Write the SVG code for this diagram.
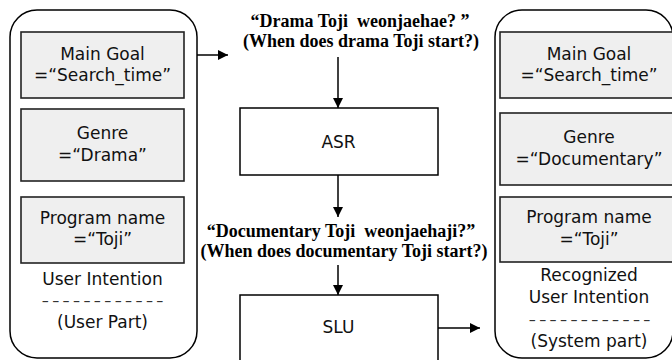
<svg xmlns="http://www.w3.org/2000/svg" width="672" height="360" viewBox="0 0 672 360">
<style>
.cont{fill:#fff;stroke:#000;stroke-width:1.5}
.slot{fill:#efefef;stroke:#222;stroke-width:1.6}
.proc{fill:#fff;stroke:#000;stroke-width:1.5}
.s{font-family:"DejaVu Sans",sans-serif;font-size:17px;fill:#111;text-anchor:middle}
.d{font-family:"DejaVu Sans",sans-serif;font-size:14px;fill:#333;text-anchor:middle;letter-spacing:1.9px}
.q{font-family:"Liberation Serif",serif;font-weight:bold;font-size:18px;fill:#000;text-anchor:middle}
.c{fill:none;stroke:#000;stroke-width:1.5}
</style>
<defs>
<marker id="ah" markerWidth="10" markerHeight="10" refX="10" refY="5" orient="auto" markerUnits="userSpaceOnUse">
<path d="M0,0 L10,5 L0,10 Z" fill="#000"/>
</marker>
</defs>
<rect width="672" height="360" fill="#fff"/>

<g id="user-intention">
<rect class="cont" x="10" y="10" width="187" height="348" rx="27"/>
<rect class="slot" x="21" y="32" width="163" height="66"/>
<text class="s" x="102.5" y="60">Main Goal</text>
<text class="s" x="102.5" y="81">=“Search_time”</text>
<rect class="slot" x="21" y="109" width="163" height="72"/>
<text class="s" x="102.5" y="139">Genre</text>
<text class="s" x="102.5" y="161">=“Drama”</text>
<rect class="slot" x="21" y="197" width="163" height="66"/>
<text class="s" x="102.5" y="224">Program name</text>
<text class="s" x="102.5" y="245">=“Toji”</text>
<text class="s" x="102.5" y="285">User Intention</text>
<text class="d" transform="translate(104,306) scale(1.5,1)">------------</text>
<text class="s" x="102.5" y="328">(User Part)</text>
</g>

<g id="recognized-intention">
<rect class="cont" x="495" y="10" width="178" height="348" rx="27"/>
<rect class="slot" x="500" y="32" width="180" height="66"/>
<text class="s" x="589" y="60">Main Goal</text>
<text class="s" x="589" y="81">=“Search_time”</text>
<rect class="slot" x="500" y="113" width="180" height="72"/>
<text class="s" x="589" y="143">Genre</text>
<text class="s" x="589" y="165">=“Documentary”</text>
<rect class="slot" x="500" y="197" width="180" height="65"/>
<text class="s" x="589" y="223">Program name</text>
<text class="s" x="589" y="245">=“Toji”</text>
<text class="s" x="589" y="281">Recognized</text>
<text class="s" x="589" y="303">User Intention</text>
<text class="d" transform="translate(591,325) scale(1.5,1)">------------</text>
<text class="s" x="589" y="347">(System part)</text>
</g>

<g id="utterance">
<text class="q" x="360" y="27" xml:space="preserve">“Drama Toji  weonjaehae? ”</text>
<text class="q" x="361" y="47">(When does drama Toji start?)</text>
</g>

<g id="asr">
<rect class="proc" x="240" y="108" width="198" height="67"/>
<text class="s" x="338.5" y="148">ASR</text>
</g>

<g id="recognized-text">
<text class="q" x="341" y="237" xml:space="preserve">“Documentary Toji  weonjaehaji?”</text>
<text class="q" x="344" y="257">(When does documentary Toji start?)</text>
</g>

<g id="slu">
<rect class="proc" x="240" y="295" width="198" height="80"/>
<text class="s" x="338.5" y="333">SLU</text>
</g>

<g id="connectors">
<line class="c" x1="197" y1="55" x2="228" y2="55" marker-end="url(#ah)"/>
<line class="c" x1="338" y1="57" x2="338" y2="108" marker-end="url(#ah)"/>
<line class="c" x1="338" y1="175" x2="338" y2="217" marker-end="url(#ah)"/>
<line class="c" x1="338" y1="265" x2="338" y2="295" marker-end="url(#ah)"/>
<line class="c" x1="438" y1="328" x2="480" y2="328" marker-end="url(#ah)"/>
</g>
</svg>
